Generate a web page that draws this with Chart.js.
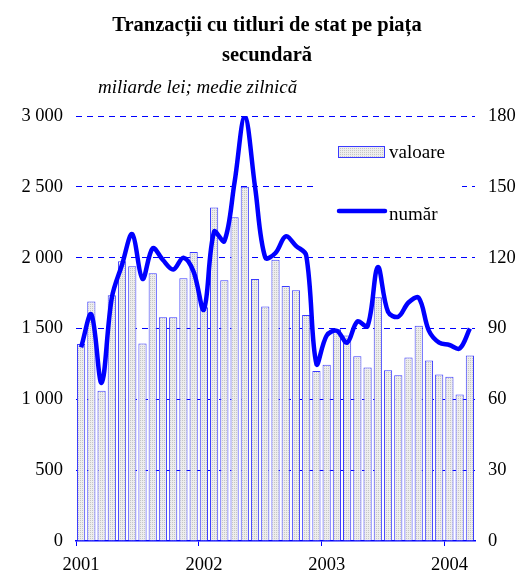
<!DOCTYPE html>
<html>
<head>
<meta charset="utf-8">
<script src="https://cdn.jsdelivr.net/npm/chart.js@4.4.1/dist/chart.umd.min.js"></script>
<style>
  html, body { margin: 0; padding: 0; background: #fff; }
  #wrap { width: 532px; height: 573px; }
</style>
</head>
<body>
<div id="wrap"><canvas id="chart1" width="532" height="573"></canvas></div>
<script>
// monthly data, Jan 2001 - Mar 2004
var years = ["2001", "2002", "2003", "2004"];
var months = ["01", "02", "03", "04", "05", "06", "07", "08", "09", "10", "11", "12"];
// valoare: miliarde lei, medie zilnica (left axis)
var valoare = [1390, 1690, 1060, 1735, 1975, 1940, 1395, 1890, 1580, 1580, 1855, 2040,
               1650, 2355, 1840, 2285, 2500, 1850, 1655, 1985, 1800, 1770, 1595, 1200,
               1245, 1495, 1450, 1305, 1225, 1720, 1205, 1170, 1295, 1520, 1275, 1175,
               1160, 1035, 1310];
// numar tranzactii (right axis)
var numar = [82, 96, 67, 103, 117, 130, 111, 124, 119, 115, 120, 114,
             98, 131, 127, 152, 180, 150, 120, 122, 129, 125, 121, 75,
             87, 89, 84, 93, 91, 116, 97, 95, 101, 103, 89, 84,
             83, 81.5, 90];
var leftTicks = [0, 500, 1000, 1500, 2000, 2500, 3000];
var rightTicks = [0, 30, 60, 90, 120, 150, 180];

var labels = [];
years.forEach(function (y) {
    months.forEach(function (m) {
        if (labels.length < valoare.length) labels.push(y + "-" + m);
    });
});

var BLUE = "#0000ff";
var SERIF = '"Liberation Serif", "Times New Roman", serif';

function dotPattern() {
    var c = document.createElement("canvas");
    c.width = 2; c.height = 2;
    var g = c.getContext("2d");
    g.fillStyle = "#ededed"; g.fillRect(0, 0, 2, 2);
    g.fillStyle = "#c6c6c6"; g.fillRect(0, 0, 1, 1);
    return g.createPattern(c, "repeat");
}

function fmt(v) {
    return String(v).replace(/\B(?=(\d{3})+(?!\d))/g, " ");
}

// title, subtitle and legend drawn by hand
var extras = {
    id: "extras",
    beforeDatasetsDraw: function (chart) {
        var ctx = chart.ctx, a = chart.chartArea;
        ctx.save();
        ctx.fillStyle = "#fff";
        ctx.fillRect(a.right - 159, a.top + 9, 146, 112);
        ctx.restore();
    },
    afterDatasetsDraw: function (chart) {
        var ctx = chart.ctx, a = chart.chartArea;
        var x0 = a.right - 137;
        ctx.save();
        ctx.fillStyle = dotPattern();
        ctx.fillRect(x0, a.top + 30, 47, 12);
        ctx.strokeStyle = "#3a3aff";
        ctx.lineWidth = 1;
        ctx.strokeRect(x0 + 0.5, a.top + 30.5, 46, 11);
        ctx.strokeStyle = BLUE;
        ctx.lineWidth = 4.5;
        ctx.lineCap = "round";
        ctx.beginPath();
        ctx.moveTo(x0 + 1, a.top + 95);
        ctx.lineTo(x0 + 47, a.top + 95);
        ctx.stroke();
        ctx.fillStyle = "#000";
        ctx.font = "19px " + SERIF;
        ctx.textBaseline = "alphabetic";
        ctx.fillText("valoare", x0 + 51, a.top + 42);
        ctx.fillText("număr", x0 + 51, a.top + 104);
        ctx.restore();
    },
    afterDraw: function (chart) {
        var ctx = chart.ctx;
        ctx.save();
        ctx.fillStyle = "#000";
        ctx.textAlign = "center";
        ctx.font = "bold 20.5px " + SERIF;
        ctx.fillText("Tranzacții cu titluri de stat pe piața", 267, 31);
        ctx.fillText("secundară", 267, 61);
        ctx.textAlign = "left";
        ctx.font = "italic 19px " + SERIF;
        ctx.fillText("miliarde lei; medie zilnică", 98, 93);
        ctx.restore();
    }
};

new Chart(document.getElementById("chart1"), {
    data: {
        labels: labels,
        datasets: [{
            type: "line",
            label: "număr",
            data: numar,
            yAxisID: "y2",
            borderColor: BLUE,
            borderWidth: 4.5,
            pointRadius: 0,
            tension: 0.35,
            order: 0
        }, {
            type: "bar",
            label: "valoare",
            data: valoare,
            yAxisID: "y",
            backgroundColor: dotPattern(),
            borderColor: "#3a3aff",
            borderWidth: 1,
            barPercentage: 0.8,
            categoryPercentage: 1,
            order: 1
        }]
    },
    plugins: [extras],
    options: {
        responsive: false,
        animation: false,
        devicePixelRatio: 1,
        layout: { padding: { top: 116, left: 0, right: 0, bottom: 0 } },
        plugins: {
            legend: { display: false },
            title: { display: false },
            tooltip: { enabled: false }
        },
        scales: {
            x: {
                type: "category",
                offset: true,
                grid: {
                    offset: true,
                    drawOnChartArea: false,
                    drawTicks: true,
                    tickLength: 5,
                    color: function (c) { return c.index % 12 === 0 ? BLUE : "rgba(0,0,0,0)"; }
                },
                border: { display: true, color: BLUE, width: 1.5 },
                ticks: {
                    autoSkip: false,
                    maxRotation: 0,
                    padding: 8,
                    color: "#000",
                    font: { family: SERIF, size: 18.5 },
                    callback: function (v) {
                        var lab = this.getLabelForValue(v);
                        return lab.slice(5) === "01" ? lab.slice(0, 4) : "";
                    }
                },
                afterFit: function (s) { s.height = 32; }
            },
            y: {
                position: "left",
                min: leftTicks[0],
                max: leftTicks[leftTicks.length - 1],
                afterBuildTicks: function (s) { s.ticks = leftTicks.map(function (v) { return { value: v }; }); },
                grid: {
                    drawTicks: false,
                    color: function (c) { return c.tick && c.tick.value === 0 ? "rgba(0,0,0,0)" : BLUE; },
                    lineWidth: 1,
                    borderDash: [6, 5]
                },
                border: { display: false, dash: [6, 5] },
                ticks: {
                    padding: 13,
                    color: "#000",
                    font: { family: SERIF, size: 18.5 },
                    callback: function (v) { return fmt(v); }
                },
                afterFit: function (s) { s.width = 76; }
            },
            y2: {
                position: "right",
                min: rightTicks[0],
                max: rightTicks[rightTicks.length - 1],
                afterBuildTicks: function (s) { s.ticks = rightTicks.map(function (v) { return { value: v }; }); },
                grid: { drawOnChartArea: false, drawTicks: false },
                border: { display: false },
                ticks: {
                    padding: 13,
                    color: "#000",
                    font: { family: SERIF, size: 18.5 }
                },
                afterFit: function (s) { s.width = 57; }
            }
        }
    }
});
</script>
</body>
</html>
